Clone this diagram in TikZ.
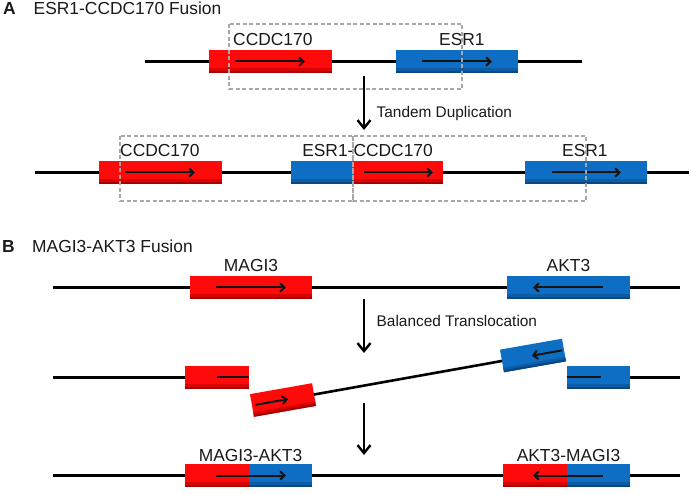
\documentclass[tikz,border=0pt]{standalone}
\usepackage{fontspec}
\setmainfont{Liberation Sans}
\usetikzlibrary{arrows.meta,calc}
\definecolor{rmain}{HTML}{FF0A0A}
\definecolor{rmid}{HTML}{D80404}
\definecolor{rdark}{HTML}{A80000}
\definecolor{bmain}{HTML}{0E6EC4}
\definecolor{bmid}{HTML}{0C5CA6}
\definecolor{bdark}{HTML}{0A4680}
\definecolor{dashgray}{HTML}{A8A8A8}
\definecolor{txt}{HTML}{1A1A1A}
\newcommand\geneband[3]{%
  \fill[#3] ($(#1.south west)!0.10!(#1.north west)$) -- ($(#1.south east)!0.10!(#1.north east)$) -- ($(#1.south east)!0.20!(#1.north east)$) -- ($(#1.south west)!0.20!(#1.north west)$) -- cycle;
  \fill[#2] (#1.south west) -- (#1.south east) -- ($(#1.south east)!0.10!(#1.north east)$) -- ($(#1.south west)!0.10!(#1.north west)$) -- cycle;}
\begin{document}
\begin{tikzpicture}[x=1pt,y=-1pt,
  chrom/.style={line width=2.6pt, black},
  gene/.style={inner sep=0pt, outer sep=0pt, minimum height=23pt, anchor=center},
  redgene/.style={gene, fill=rmain},
  bluegene/.style={gene, fill=bmain},
  dir/.style={line width=2pt, black!92, -{Straight Barb[length=4.5pt,width=8.5pt]}},
  stub/.style={line width=2pt, black!92},
  bigarrow/.style={line width=2.4pt, black, -{Straight Barb[length=8pt,width=13pt]}},
  lab/.style={inner sep=0pt, text=txt, font=\fontsize{17.4}{20}\selectfont},
  proc/.style={inner sep=0pt, text=txt, anchor=base west, font=\fontsize{15.4}{18}\selectfont},
  dashbox/.style={draw=dashgray, line width=1.2pt, dash pattern=on 4pt off 2.5pt},
]
\useasboundingbox[fill=white] (0,0) rectangle (691,494);

% ---------------- Panel A ----------------
\node[anchor=base west, inner sep=0pt, text=txt, font=\bfseries\fontsize{17.4}{20}\selectfont] (labA) at (3,15) {A};
\node[lab, anchor=base west] (titA) at (33.5,15) {ESR1-CCDC170 Fusion};

% line 1
\coordinate (a1L) at (145,61.5);
\coordinate (a1R) at (582,61.5);
\draw[chrom] (a1L) -- (a1R);
\node[redgene, minimum width=123pt] (r1) at (270.5,61.5) {};
\node[bluegene, minimum width=122pt] (b1) at (457,61.5) {};
\geneband{r1}{rdark}{rmid}
\geneband{b1}{bdark}{bmid}
\draw[dir] ($(r1.west)+(26,0)$) -- ($(r1.west)+(96,0)$);
\draw[dir] ($(b1.west)+(26,0)$) -- ($(b1.west)+(96,0)$);
\node[lab, anchor=base west] (lc1) at (233,46) {CCDC170};
\node[lab, anchor=base west] (le1) at (439,46) {ESR1};
\draw[dashbox] (229,24) rectangle (462,89);

% tandem duplication arrow
\coordinate (ta1) at (364,76);
\coordinate (ta2) at (364,130);
\draw[bigarrow] (ta1) -- (ta2);
\node[proc] (td) at (376.5,118) {Tandem Duplication};

% line 2
\coordinate (a2L) at (35,172.5);
\coordinate (a2R) at (689,172.5);
\draw[chrom] (a2L) -- (a2R);
\node[redgene, minimum width=123pt] (ra) at (160.5,172.5) {};
\node[bluegene, minimum width=62pt] (ba) at (322,172.5) {};
\node[redgene, minimum width=90pt] (rb) at (398,172.5) {};
\node[bluegene, minimum width=122pt] (bb) at (586,172.5) {};
\geneband{ra}{rdark}{rmid}
\geneband{ba}{bdark}{bmid}
\geneband{rb}{rdark}{rmid}
\geneband{bb}{bdark}{bmid}
\draw[dir] ($(ra.west)+(26,0)$) -- ($(ra.west)+(96,0)$);
\draw[dir] ($(rb.west)+(11,0)$) -- ($(rb.west)+(80,0)$);
\draw[dir] ($(bb.west)+(27,0)$) -- ($(bb.west)+(96,0)$);
\node[lab, anchor=base west] (lc2) at (120,157) {CCDC170};
\node[lab, anchor=base east] (lec) at (433,157) {ESR1-CCDC170};
\node[lab, anchor=base west] (le2) at (562,157) {ESR1};
\draw[dashbox] (120,136) rectangle (353,201);
\draw[dashbox] (353,136) rectangle (586,201);

% ---------------- Panel B ----------------
\node[anchor=base west, inner sep=0pt, text=txt, font=\bfseries\fontsize{17.4}{20}\selectfont] (labB) at (2,253) {B};
\node[lab, anchor=base west] (titB) at (32,253) {MAGI3-AKT3 Fusion};

% line 1
\coordinate (b1L) at (53,287.5);
\coordinate (b1R) at (680,287.5);
\draw[chrom] (b1L) -- (b1R);
\node[redgene, minimum width=122pt] (rm) at (251,287.5) {};
\node[bluegene, minimum width=123pt] (bk) at (568.5,287.5) {};
\geneband{rm}{rdark}{rmid}
\geneband{bk}{bdark}{bmid}
\draw[dir] ($(rm.west)+(26,0)$) -- ($(rm.west)+(96,0)$);
\draw[dir] ($(bk.east)+(-27,0)$) -- ($(bk.east)+(-97,0)$);
\node[lab, anchor=base] (lm) at (251,272) {MAGI3};
\node[lab, anchor=base] (lk) at (568.5,272) {AKT3};

% balanced translocation arrow
\coordinate (tb1) at (364,299);
\coordinate (tb2) at (364,353);
\draw[bigarrow] (tb1) -- (tb2);
\node[proc] (bt) at (376.5,327) {Balanced Translocation};

% line 2
\coordinate (b2L) at (53,377.5);
\coordinate (b2R) at (680,377.5);
\node[redgene, minimum width=64pt] (rs) at (217,377.5) {};
\node[bluegene, minimum width=63pt] (bs) at (598.5,377.5) {};
\draw[chrom] (b2L) -- (rs.west);
\draw[chrom] (bs.east) -- (b2R);
\geneband{rs}{rdark}{rmid}
\geneband{bs}{bdark}{bmid}
\draw[stub] (rs.center) -- (rs.east);
\draw[stub] (bs.west) -- ($(bs.west)+(34,0)$);

\node[redgene, minimum width=63pt, rotate=10] (tr) at (283,400) {};
\node[bluegene, minimum width=63pt, rotate=10] (tbx) at (533,355.5) {};
\draw[chrom] (tr.east) -- (tbx.west);
\geneband{tr}{rdark}{rmid}
\geneband{tbx}{bdark}{bmid}
\draw[dir] ($(tr.west)!0.05!(tr.east)$) -- ($(tr.west)!0.58!(tr.east)$);
\draw[dir] ($(tbx.west)!0.97!(tbx.east)$) -- ($(tbx.west)!0.48!(tbx.east)$);

% second arrow
\coordinate (tc1) at (364,403);
\coordinate (tc2) at (364,455);
\draw[bigarrow] (tc1) -- (tc2);

% line 3
\coordinate (b3L) at (53,475.5);
\coordinate (b3R) at (680,475.5);
\draw[chrom] (b3L) -- (b3R);
\node[redgene, minimum width=64pt] (fr1) at (217,475.5) {};
\node[bluegene, minimum width=63pt] (fb1) at (280.5,475.5) {};
\node[redgene, minimum width=64pt] (fr2) at (535,475.5) {};
\node[bluegene, minimum width=63pt] (fb2) at (598.5,475.5) {};
\geneband{fr1}{rdark}{rmid}
\geneband{fb1}{bdark}{bmid}
\geneband{fr2}{rdark}{rmid}
\geneband{fb2}{bdark}{bmid}
\draw[dir] ($(fr1.west)+(31,0)$) -- ($(fr1.west)+(101,0)$);
\draw[dir] ($(fb2.east)+(-27,0)$) -- ($(fb2.east)+(-97,0)$);
\node[lab, anchor=base] (lf1) at (250.5,461) {MAGI3-AKT3};
\node[lab, anchor=base] (lf2) at (568.5,461) {AKT3-MAGI3};
\end{tikzpicture}
\end{document}
